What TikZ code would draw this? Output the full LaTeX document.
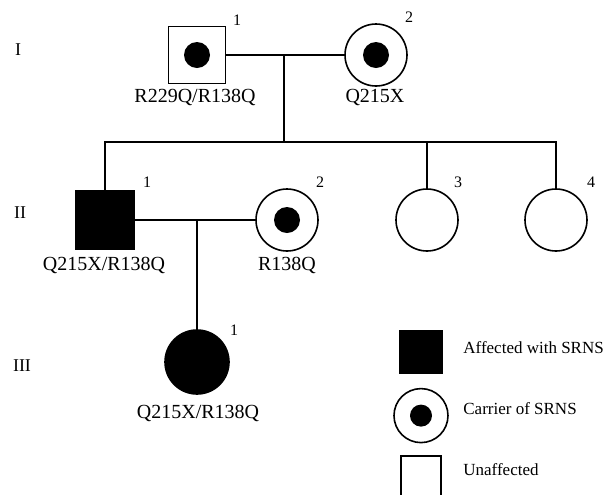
\documentclass[tikz,border=0pt]{standalone}
\usepackage{fontspec}
\setmainfont{Liberation Serif}
\usetikzlibrary{positioning}

\begin{document}
\begin{tikzpicture}[
		x=0.5pt, y=-0.5pt,
		pria/.style={draw, rectangle, minimum size=28.5pt, inner sep=0pt, line width=0.8pt},
		wanita/.style={draw, circle, minimum size=31pt, inner sep=0pt, line width=0.8pt},
		sakit/.style={fill=black},
		pembawa/.style={path picture={\fill (path picture bounding box.center) circle (#1);}},
		pembawa/.default=6.5pt,
		garis/.style={line width=0.8pt},
		mutasi/.style={inner sep=0pt, font=\fontsize{10pt}{12pt}\selectfont},
		nomor/.style={inner sep=0pt, font=\fontsize{8pt}{10pt}\selectfont},
		generasi/.style={inner sep=0pt, font=\fontsize{9pt}{11pt}\selectfont},
		teks/.style={inner sep=0pt, anchor=west, font=\fontsize{8.5pt}{10pt}\selectfont}
	]
	\useasboundingbox (0,0) rectangle (606,494);

	% Label generasi
	\node[generasi] (gI) at (18,50) {I};
	\node[generasi] (gII) at (20,213) {II};
	\node[generasi] (gIII) at (22,366) {III};

	% Generasi I
	\node[pria, pembawa] (I1) at (197,55) {};
	\node[wanita, pembawa] (I2) at (376,55) {};
	\node[nomor] (nI1) at (237,20) {1};
	\node[nomor] (nI2) at (409,17) {2};
	\node[mutasi] (mI1) at (195,97) {R229Q/R138Q};
	\node[mutasi] (mI2) at (375,97) {Q215X};

	% Generasi II
	\node[pria, sakit, minimum size=29pt] (II1) at (105,220) {};
	\node[wanita, pembawa] (II2) at (287,220) {};
	\node[wanita] (II3) at (427,220) {};
	\node[wanita] (II4) at (556,220) {};
	\node[nomor] (nII1) at (147,182) {1};
	\node[nomor] (nII2) at (320,182) {2};
	\node[nomor] (nII3) at (458,182) {3};
	\node[nomor] (nII4) at (591,182) {4};
	\node[mutasi] (mII1) at (104,265) {Q215X/R138Q};
	\node[mutasi] (mII2) at (287,265) {R138Q};

	% Generasi III
	\node[wanita, sakit, minimum size=32pt] (III1) at (197,362) {};
	\node[nomor] (nIII1) at (234,330) {1};
	\node[mutasi] (mIII1) at (198,413) {Q215X/R138Q};

	% Garis pernikahan dan keturunan
	\coordinate (k1) at (284,55);
	\coordinate (s1) at (284,142);
	\coordinate (k2) at (197,220);
	\draw[garis] (I1) -- (I2);
	\draw[garis] (k1) -- (s1);
	\draw[garis] (II1.north) |- (s1) -| (II4.north);
	\draw[garis] (II3.north) -- (II3.north |- s1);
	\draw[garis] (II1) -- (II2);
	\draw[garis] (k2) -- (III1.north);

	% Keterangan
	\node[pria, sakit, minimum size=21pt] (ket1) at (421,352) {};
	\node[wanita, pembawa=5.5pt, minimum size=27pt, below=7pt of ket1] (ket2) {};
	\node[pria, minimum size=20pt, below=6pt of ket2] (ket3) {};
	\node[teks] (tket1) at (463,348) {Affected with SRNS};
	\node[teks] (tket2) at (463,409) {Carrier of SRNS};
	\node[teks] (tket3) at (463,470) {Unaffected};
\end{tikzpicture}
\end{document}
